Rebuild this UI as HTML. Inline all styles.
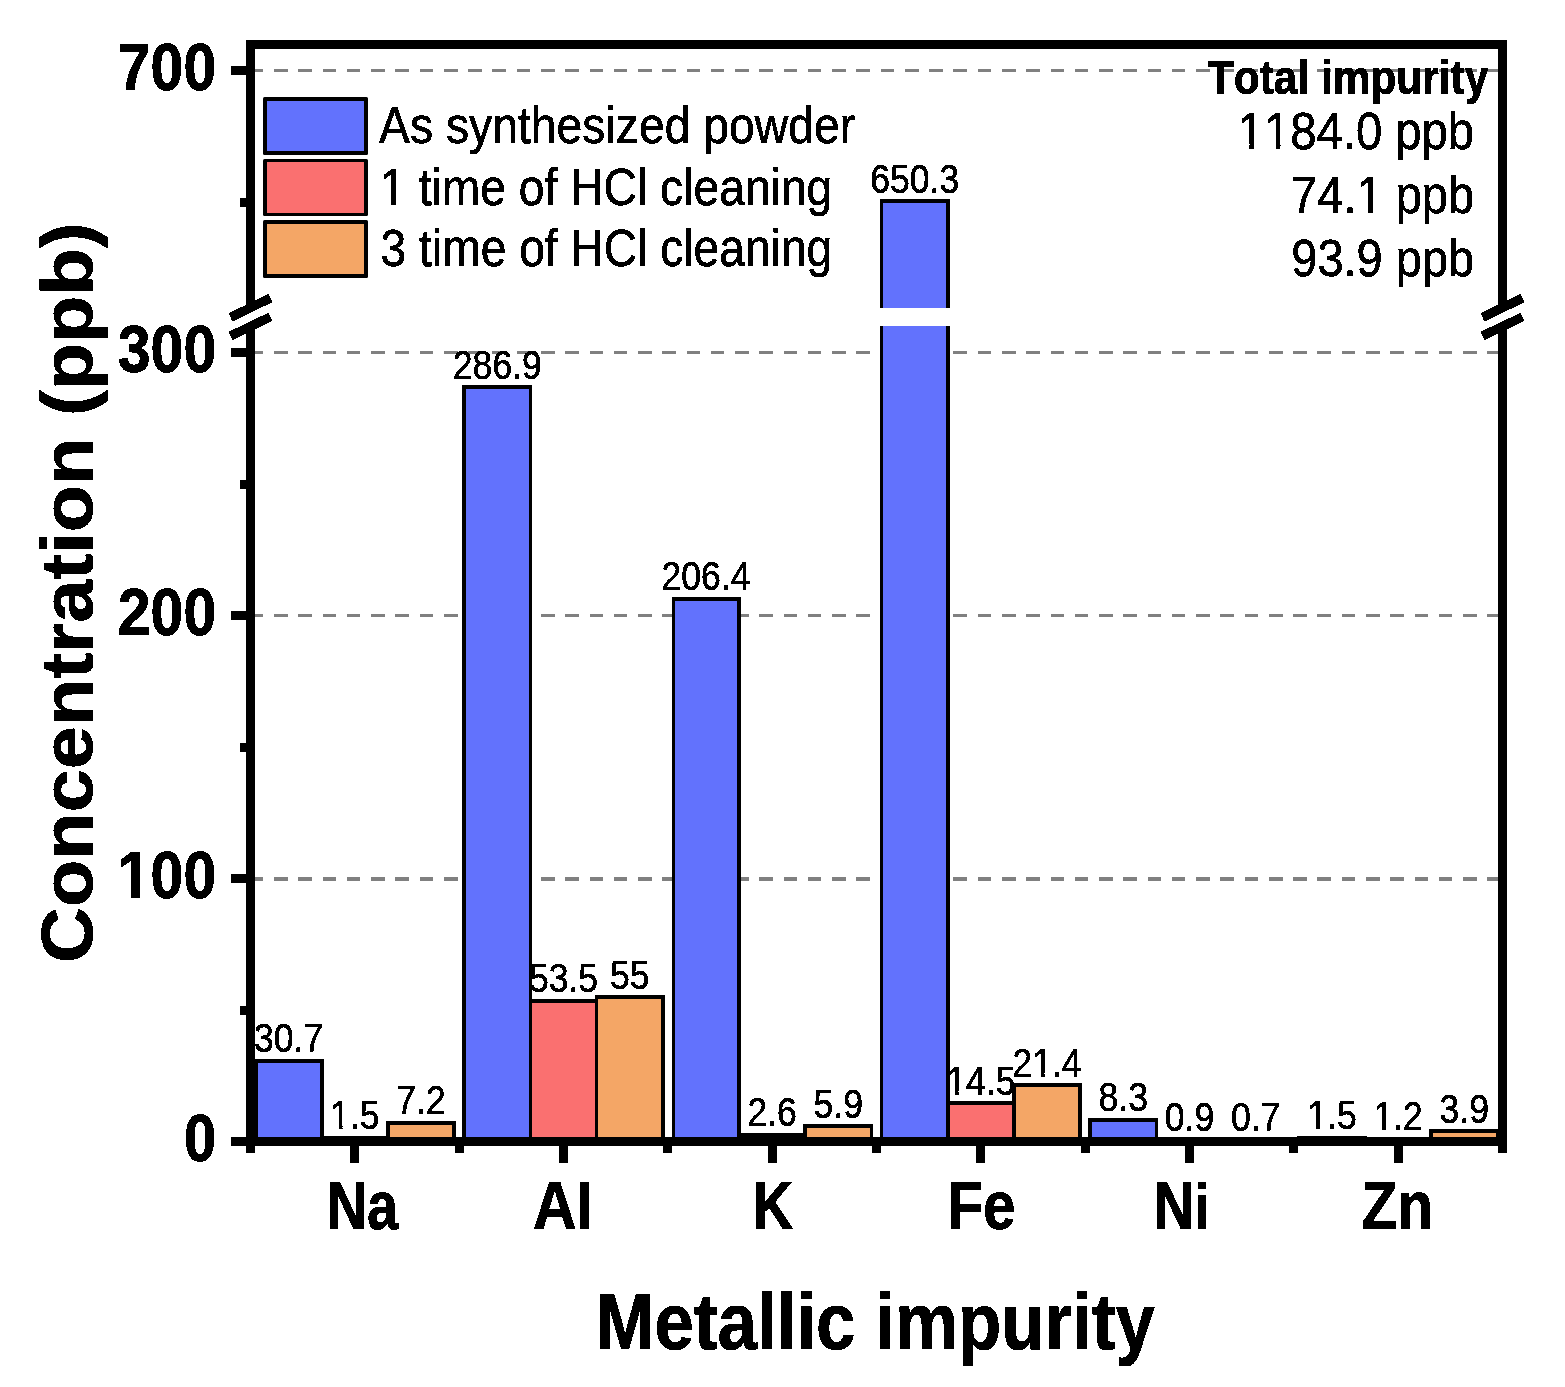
<!DOCTYPE html>
<html lang="en">
<head>
<meta charset="utf-8">
<title>Metallic impurity concentration</title>
<style>
html,body{margin:0;padding:0;background:#fff;}
body{width:1565px;height:1387px;overflow:hidden;font-family:"Liberation Sans",Arial,Helvetica,sans-serif;}
svg{display:block;}
</style>
</head>
<body>
<svg width="1565" height="1387" viewBox="0 0 1565 1387">
<defs><filter id="alias" x="0" y="0" width="100%" height="100%" filterUnits="userSpaceOnUse" primitiveUnits="userSpaceOnUse" color-interpolation-filters="sRGB"><feComponentTransfer><feFuncA type="discrete" tableValues="0 1"/></feComponentTransfer></filter><clipPath id="c0"><path d="M-9999,-9999H9999V-7.87H-9999ZM-9999,1.00H9999V9999H-9999ZM-9999.00,-8.87H3.22V2.00H-9999.00ZM15.26,-8.87H25.20V2.00H15.26ZM36.41,-8.87H9999V2.00H36.41Z"/></clipPath><clipPath id="c1"><path d="M-9999,-9999H9999V-4.75H-9999ZM-9999,0.90H9999V9999H-9999ZM-9999.00,-5.75H3.00V1.90H-9999.00ZM12.62,-5.75H17.72V1.90H12.62ZM26.93,-5.75H9999V1.90H26.93Z"/></clipPath><clipPath id="c2"><path d="M-9999,-9999H9999V-4.80H-9999ZM-9999,0.90H9999V9999H-9999ZM-9999.00,-5.80H3.05V1.90H-9999.00ZM12.80,-5.80H17.96V1.90H12.80ZM27.29,-5.80H31.97V1.90H27.29ZM41.72,-5.80H46.88V1.90H41.72ZM56.21,-5.80H9999V1.90H56.21Z"/></clipPath><clipPath id="c3"><path d="M-9999,-9999H9999V-4.80H-9999ZM-9999,0.90H9999V9999H-9999ZM-9999.00,-5.80H75.34V1.90H-9999.00ZM85.09,-5.80H90.25V1.90H85.09ZM99.58,-5.80H9999V1.90H99.58Z"/></clipPath><clipPath id="c4"><path d="M-9999,-9999H9999V-3.91H-9999ZM-9999,0.90H9999V9999H-9999ZM-9999.00,-4.91H-25.73V1.90H-9999.00ZM-18.07,-4.91H-13.96V1.90H-18.07ZM-6.62,-4.91H9999V1.90H-6.62Z"/></clipPath><clipPath id="c5"><path d="M-9999,-9999H9999V-3.91H-9999ZM-9999,0.90H9999V9999H-9999ZM-9999.00,-4.91H-36.88V1.90H-9999.00ZM-29.22,-4.91H-25.11V1.90H-29.22ZM-17.77,-4.91H9999V1.90H-17.77Z"/></clipPath><clipPath id="c6"><path d="M-9999,-9999H9999V-3.91H-9999ZM-9999,0.90H9999V9999H-9999ZM-9999.00,-4.91H-14.57V1.90H-9999.00ZM-6.92,-4.91H-2.81V1.90H-6.92ZM4.53,-4.91H9999V1.90H4.53Z"/></clipPath><clipPath id="c7"><path d="M-9999,-9999H9999V-3.91H-9999ZM-9999,0.90H9999V9999H-9999ZM-9999.00,-4.91H-25.73V1.90H-9999.00ZM-18.07,-4.91H-13.96V1.90H-18.07ZM-6.62,-4.91H9999V1.90H-6.62Z"/></clipPath><clipPath id="c8"><path d="M-9999,-9999H9999V-3.91H-9999ZM-9999,0.90H9999V9999H-9999ZM-9999.00,-4.91H-25.73V1.90H-9999.00ZM-18.07,-4.91H-13.96V1.90H-18.07ZM-6.62,-4.91H9999V1.90H-6.62Z"/></clipPath></defs>
<rect x="0" y="0" width="1565" height="1387" fill="#fff"/>
<g stroke="#808080" stroke-dasharray="13.6 10.665" shape-rendering="crispEdges" fill="none">
<line x1="249.8" y1="70.5" x2="1502.5" y2="70.5" stroke-width="3"/>
<line x1="249.8" y1="352.5" x2="1502.5" y2="352.5" stroke-width="3"/>
<line x1="249.8" y1="615.5" x2="1502.5" y2="615.5" stroke-width="3"/>
<line x1="249.8" y1="879" x2="1502.5" y2="879" stroke-width="4"/>
</g>
<g fill="#000" shape-rendering="crispEdges">
<rect x="254" y="1059" width="70" height="83"/>
<rect x="258" y="1063" width="62" height="79" fill="#6272fd"/>
<rect x="320" y="1136" width="70" height="6"/>
<rect x="324" y="1140" width="62" height="2" fill="#fa7070"/>
<rect x="386" y="1121" width="70" height="21"/>
<rect x="390" y="1125" width="62" height="17" fill="#f4a666"/>
<rect x="462" y="385" width="70" height="757"/>
<rect x="466" y="389" width="63" height="753" fill="#6272fd"/>
<rect x="529" y="999" width="69" height="143"/>
<rect x="532" y="1003" width="63" height="139" fill="#fa7070"/>
<rect x="595" y="995" width="70" height="147"/>
<rect x="598" y="999" width="63" height="143" fill="#f4a666"/>
<rect x="672" y="597" width="69" height="545"/>
<rect x="675" y="601" width="62" height="541" fill="#6272fd"/>
<rect x="737" y="1133" width="70" height="9"/>
<rect x="741" y="1137" width="62" height="5" fill="#fa7070"/>
<rect x="803" y="1124" width="70" height="18"/>
<rect x="807" y="1128" width="63" height="14" fill="#f4a666"/>
<rect x="880" y="199" width="70" height="943"/>
<rect x="883" y="203" width="63" height="939" fill="#6272fd"/>
<rect x="946" y="1101" width="70" height="41"/>
<rect x="950" y="1105" width="62" height="37" fill="#fa7070"/>
<rect x="1012" y="1083" width="70" height="59"/>
<rect x="1016" y="1087" width="62" height="55" fill="#f4a666"/>
<rect x="1088" y="1118" width="70" height="24"/>
<rect x="1092" y="1122" width="63" height="20" fill="#6272fd"/>
<rect x="1155" y="1137" width="69" height="5"/>
<rect x="1158" y="1141" width="63" height="1" fill="#fa7070"/>
<rect x="1221" y="1138" width="70" height="4"/>
<rect x="1297" y="1136" width="70" height="6"/>
<rect x="1301" y="1140" width="62" height="2" fill="#6272fd"/>
<rect x="1363" y="1137" width="70" height="5"/>
<rect x="1367" y="1141" width="62" height="1" fill="#fa7070"/>
<rect x="1429" y="1129" width="70" height="13"/>
<rect x="1433" y="1133" width="63" height="9" fill="#f4a666"/>
</g>
<rect x="879" y="308" width="72" height="18" fill="#fff" shape-rendering="crispEdges"/>
<g stroke="#000" stroke-width="9" fill="none" shape-rendering="crispEdges" stroke-linecap="butt">
<line x1="246.0" y1="44.5" x2="1507.0" y2="44.5"/>
<line x1="231.0" y1="1141.5" x2="1507.0" y2="1141.5"/>
<line x1="250.5" y1="44.5" x2="250.5" y2="307"/>
<line x1="250.5" y1="326" x2="250.5" y2="1153.0"/>
<line x1="1502.5" y1="44.5" x2="1502.5" y2="307"/>
<line x1="1502.5" y1="326" x2="1502.5" y2="1153.0"/>
<line x1="231.0" y1="70.5" x2="250.5" y2="70.5"/>
<line x1="231.0" y1="352.5" x2="250.5" y2="352.5"/>
<line x1="231.0" y1="615.5" x2="250.5" y2="615.5"/>
<line x1="231.0" y1="878.5" x2="250.5" y2="878.5"/>
<line x1="240.0" y1="202.5" x2="250.5" y2="202.5"/>
<line x1="240.0" y1="484.5" x2="250.5" y2="484.5"/>
<line x1="240.0" y1="747.5" x2="250.5" y2="747.5"/>
<line x1="240.0" y1="1010.5" x2="250.5" y2="1010.5"/>
<line x1="354.83" y1="1141.5" x2="354.83" y2="1163.0"/>
<line x1="563.50" y1="1141.5" x2="563.50" y2="1163.0"/>
<line x1="772.17" y1="1141.5" x2="772.17" y2="1163.0"/>
<line x1="980.83" y1="1141.5" x2="980.83" y2="1163.0"/>
<line x1="1189.50" y1="1141.5" x2="1189.50" y2="1163.0"/>
<line x1="1398.17" y1="1141.5" x2="1398.17" y2="1163.0"/>
<line x1="459.17" y1="1141.5" x2="459.17" y2="1153.0"/>
<line x1="667.83" y1="1141.5" x2="667.83" y2="1153.0"/>
<line x1="876.50" y1="1141.5" x2="876.50" y2="1153.0"/>
<line x1="1085.17" y1="1141.5" x2="1085.17" y2="1153.0"/>
<line x1="1293.83" y1="1141.5" x2="1293.83" y2="1153.0"/>
</g>
<g stroke="#000" stroke-width="9.2" fill="none" stroke-linecap="butt" filter="url(#alias)">
<line x1="230.5" y1="317.3" x2="270.5" y2="298"/>
<line x1="230.5" y1="336" x2="270.5" y2="316.8"/>
<line x1="1482.5" y1="317.3" x2="1522.5" y2="298"/>
<line x1="1482.5" y1="336" x2="1522.5" y2="316.8"/>
</g>
<g font-family="'Liberation Sans', Arial, Helvetica, sans-serif" fill="#000" filter="url(#alias)" style="font-kerning:none" xml:space="preserve">
<text transform="translate(117.75 90.00) scale(0.8813 1)" font-size="67" font-weight="bold" stroke="#000" stroke-width="0.8">700</text>
<text transform="translate(117.74 372.00) scale(0.8814 1)" font-size="67" font-weight="bold" stroke="#000" stroke-width="0.8">300</text>
<text transform="translate(117.75 635.00) scale(0.8813 1)" font-size="67" font-weight="bold" stroke="#000" stroke-width="0.8">200</text>
<text transform="translate(117.76 898.00) scale(0.8812 1)" font-size="67" font-weight="bold" stroke="#000" stroke-width="0.8" clip-path="url(#c0)">100</text>
<text transform="translate(183.98 1161.00) scale(0.8655 1)" font-size="67" font-weight="bold" stroke="#000" stroke-width="0.8">0</text>
<text transform="translate(326.70 1229.00) scale(0.8225 1)" font-size="67.8" font-weight="bold" stroke="#000" stroke-width="0.8">Na</text>
<text transform="translate(532.74 1229) scale(0.8989 1)" font-size="67.8" font-weight="bold" stroke="#000" stroke-width="0.8">A<tspan font-size="64.29">l</tspan></text>
<text transform="translate(752.44 1229.00) scale(0.8342 1)" font-size="67.8" font-weight="bold" stroke="#000" stroke-width="0.8">K</text>
<text transform="translate(947.20 1229.00) scale(0.8660 1)" font-size="67.8" font-weight="bold" stroke="#000" stroke-width="0.8">Fe</text>
<text transform="translate(1153.42 1229) scale(0.8398 1)" font-size="67.8" font-weight="bold" stroke="#000" stroke-width="0.8">N<tspan font-size="64.29">i</tspan></text>
<text transform="translate(1361.29 1229.00) scale(0.8684 1)" font-size="67.8" font-weight="bold" stroke="#000" stroke-width="0.8">Zn</text>
<text transform="translate(595.47 1348.80) scale(0.8865 1)" font-size="80" font-weight="bold" stroke="#000" stroke-width="0.8">Metallic impurity</text>
<text transform="translate(92.1 963.00) rotate(-90) scale(1.0005 0.9381)" font-size="77.5" font-weight="bold" stroke="#000" stroke-width="0.8">Concentration (ppb)</text>
<text transform="translate(379.05 143.00) scale(0.9027 1)" font-size="51.3" stroke="#000" stroke-width="0.6">As synthesized powder</text>
<text transform="translate(380.10 205.00) scale(0.9012 1)" font-size="51.3" stroke="#000" stroke-width="0.6" clip-path="url(#c1)">1 time of HCl cleaning</text>
<text transform="translate(380.59 266.00) scale(0.9002 1)" font-size="51.3" stroke="#000" stroke-width="0.6">3 time of HCl cleaning</text>
<text transform="translate(1207.94 93.80) scale(0.8909 1)" font-size="47.6" font-weight="bold" stroke="#000" stroke-width="0.8">Total impurity</text>
<text transform="translate(1237.83 148.90) scale(0.9081 1)" font-size="52" stroke="#000" stroke-width="0.6" clip-path="url(#c2)">1184.0 ppb</text>
<text transform="translate(1291.10 212.60) scale(0.9044 1)" font-size="52" stroke="#000" stroke-width="0.6" clip-path="url(#c3)">74.1 ppb</text>
<text transform="translate(1291.34 275.80) scale(0.9032 1)" font-size="52" stroke="#000" stroke-width="0.6">93.9 ppb</text>
<text transform="translate(288.66 1052) scale(0.887 1)" font-size="40.1" text-anchor="middle" stroke="#000" stroke-width="0.6">30.7</text>
<text transform="translate(354.83 1129) scale(0.887 1)" font-size="40.1" text-anchor="middle" stroke="#000" stroke-width="0.6" clip-path="url(#c4)">1.5</text>
<text transform="translate(421.00 1114) scale(0.887 1)" font-size="40.1" text-anchor="middle" stroke="#000" stroke-width="0.6">7.2</text>
<text transform="translate(497.33 379) scale(0.887 1)" font-size="40.1" text-anchor="middle" stroke="#000" stroke-width="0.6">286.9</text>
<text transform="translate(563.50 992) scale(0.887 1)" font-size="40.1" text-anchor="middle" stroke="#000" stroke-width="0.6">53.5</text>
<text transform="translate(629.67 989) scale(0.887 1)" font-size="40.1" text-anchor="middle" stroke="#000" stroke-width="0.6">55</text>
<text transform="translate(706.00 590) scale(0.887 1)" font-size="40.1" text-anchor="middle" stroke="#000" stroke-width="0.6">206.4</text>
<text transform="translate(772.17 1126) scale(0.887 1)" font-size="40.1" text-anchor="middle" stroke="#000" stroke-width="0.6">2.6</text>
<text transform="translate(838.34 1118) scale(0.887 1)" font-size="40.1" text-anchor="middle" stroke="#000" stroke-width="0.6">5.9</text>
<text transform="translate(914.66 193) scale(0.887 1)" font-size="40.1" text-anchor="middle" stroke="#000" stroke-width="0.6">650.3</text>
<text transform="translate(980.83 1095) scale(0.887 1)" font-size="40.1" text-anchor="middle" stroke="#000" stroke-width="0.6" clip-path="url(#c5)">14.5</text>
<text transform="translate(1047.00 1077) scale(0.887 1)" font-size="40.1" text-anchor="middle" stroke="#000" stroke-width="0.6" clip-path="url(#c6)">21.4</text>
<text transform="translate(1123.33 1111) scale(0.887 1)" font-size="40.1" text-anchor="middle" stroke="#000" stroke-width="0.6">8.3</text>
<text transform="translate(1189.50 1131) scale(0.887 1)" font-size="40.1" text-anchor="middle" stroke="#000" stroke-width="0.6">0.9</text>
<text transform="translate(1255.67 1131) scale(0.887 1)" font-size="40.1" text-anchor="middle" stroke="#000" stroke-width="0.6">0.7</text>
<text transform="translate(1332.00 1129) scale(0.887 1)" font-size="40.1" text-anchor="middle" stroke="#000" stroke-width="0.6" clip-path="url(#c7)">1.5</text>
<text transform="translate(1398.17 1130) scale(0.887 1)" font-size="40.1" text-anchor="middle" stroke="#000" stroke-width="0.6" clip-path="url(#c8)">1.2</text>
<text transform="translate(1464.34 1123) scale(0.887 1)" font-size="40.1" text-anchor="middle" stroke="#000" stroke-width="0.6">3.9</text>
</g>
<rect x="263" y="97" width="105" height="58" rx="1.5" fill="#000"/>
<rect x="267" y="101" width="97" height="50" fill="#6272fd"/>
<rect x="263" y="159" width="105" height="57" rx="1.5" fill="#000"/>
<rect x="267" y="162" width="97" height="51" fill="#fa7070"/>
<rect x="263" y="220" width="105" height="58" rx="1.5" fill="#000"/>
<rect x="267" y="224" width="97" height="50" fill="#f4a666"/>
</svg>
</body>
</html>
